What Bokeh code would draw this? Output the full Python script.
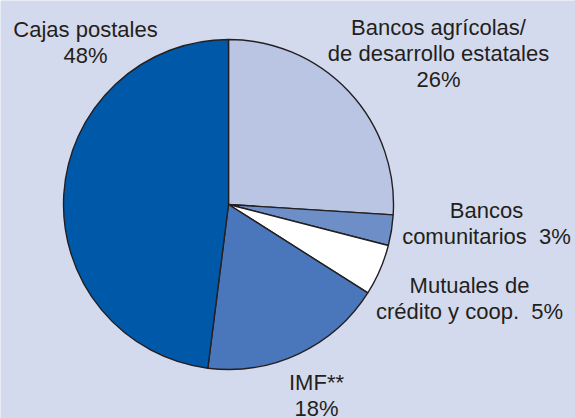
import math
from bokeh.plotting import figure
from bokeh.models import Range1d, ColumnDataSource
from bokeh.core.properties import value
from bokeh.embed import file_html
from bokeh.resources import INLINE

# ---- data ----
categories = ["Bancos agrícolas/\nde desarrollo estatales\n26%",
              "Bancos\ncomunitarios\u00a0\u00a03%",
              "Mutuales de\ncrédito y coop.\u00a0\u00a05%",
              "IMF**\n18%",
              "Cajas postales\n48%"]
shares = [26, 3, 5, 18, 48]
colors = ["#b9c5e3", "#6e8ec8", "#ffffff", "#4a77bb", "#0059a8"]

# ---- layout (page pixel coordinates) ----
BG = "#d4daed"
INK = "#231f20"
W, H = 575, 418
cx, cy, r = 228, 204, 165
label_pos = [(438, 35), (486, 218), (469, 293), (316, 390), (85, 37)]
line_gap = 26
y_fix = -8
FONT = "Liberation Sans"
FSIZE = "22px"

def fy(page_y):
    return H - page_y

total = float(sum(shares))
starts, ends = [], []
acc = 0.0
for s in shares:
    starts.append(math.pi / 2 - 2 * math.pi * acc / total)
    acc += s
    ends.append(math.pi / 2 - 2 * math.pi * acc / total)

p = figure(width=W, height=H, output_backend="svg", toolbar_location=None,
           x_range=Range1d(0, W), y_range=Range1d(0, H),
           min_border=0, background_fill_color=BG, border_fill_color=BG)
p.axis.visible = False
p.grid.visible = False
p.outline_line_color = None

src = ColumnDataSource(dict(x=[cx] * len(shares), y=[fy(cy)] * len(shares),
                            start=starts, end=ends, color=colors))
p.wedge(x="x", y="y", radius=r, radius_units="screen", start_angle="start",
        end_angle="end", direction="clock", fill_color="color",
        line_color=INK, line_width=1.4, source=src)

tx, ty, tt = [], [], []
for lab, (lx, ly) in zip(categories, label_pos):
    for i, line in enumerate(lab.split("\n")):
        tx.append(lx)
        ty.append(fy(ly + i * line_gap + y_fix))
        tt.append(line)
p.text(x=tx, y=ty, text=tt, text_align="center", text_baseline="alphabetic",
       text_font=value(FONT), text_font_size=FSIZE, text_color=INK)

html = file_html(p, INLINE)
html = html.replace("<body>",
                    '<body style="margin:0;overflow:hidden;background:%s;">' % BG, 1)
open("out.html", "w").write(html)
